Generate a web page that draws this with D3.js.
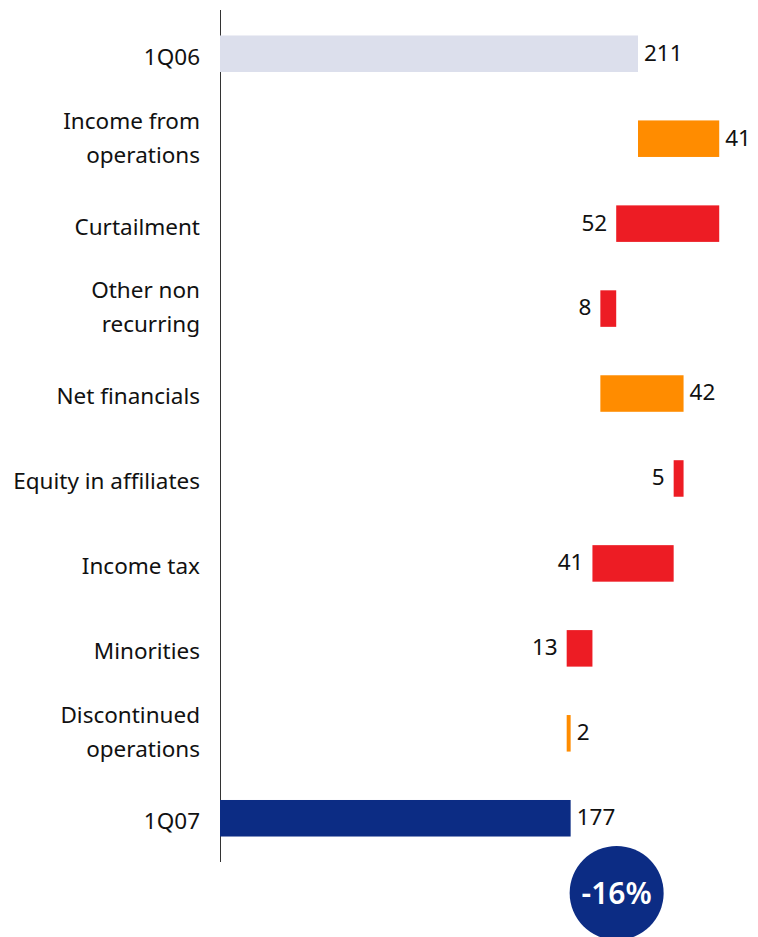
<!DOCTYPE html>
<html>
<head>
<meta charset="utf-8">
<script src="https://cdn.jsdelivr.net/npm/d3@7"></script>
<style>
  body { margin: 0; background: #fff; }
  text { font-family: "Noto Sans", "Open Sans", sans-serif; }
</style>
</head>
<body>
<svg id="chart" width="758" height="937"></svg>
<script>
// bridge from 1Q06 to 1Q07 net income
var categories = ["1Q06", "Income from|operations", "Curtailment", "Other non|recurring", "Net financials",
                  "Equity in affiliates", "Income tax", "Minorities", "Discontinued|operations", "1Q07"];
var values = [211, 41, -52, -8, 42, -5, -41, -13, 2, 177];
var kinds = ["start", "delta", "delta", "delta", "delta", "delta", "delta", "delta", "delta", "end"];
var changeLabel = "-16%";

var svg = d3.select("#chart");

var colors = {start: "#dcdfec", end: "#0c2c84", up: "#ff8c00", down: "#ed1c24"};

// running totals -> bar extents
var rows = [], running = 0;
categories.forEach(function(c, i){
  var v = values[i], x0, x1, kind;
  if (kinds[i] === "delta") {
    x0 = running; x1 = running + v; running = x1;
    kind = v >= 0 ? "up" : "down";
  } else {
    x0 = 0; x1 = v; running = v;
    kind = kinds[i];
  }
  rows.push({label: c, value: v, lo: Math.min(x0, x1), hi: Math.max(x0, x1), kind: kind});
});

var x = d3.scaleLinear().domain([0, 211]).range([220, 638]);
var y = d3.scaleBand().domain(d3.range(categories.length)).range([10, 862]).paddingInner(0.57).paddingOuter(0.3);

// axis line
svg.append("line")
  .attr("x1", 220.5).attr("x2", 220.5)
  .attr("y1", 10).attr("y2", 862)
  .style("stroke", "#333")
  .style("stroke-width", "1px");

svg.selectAll(".bar")
  .data(rows).enter()
  .append("rect")
  .attr("class", "bar")
  .attr("x", function(d){ return x(d.lo); })
  .attr("y", function(d, i){ return y(i); })
  .attr("width", function(d){ return x(d.hi) - x(d.lo); })
  .attr("height", y.bandwidth())
  .style("fill", function(d){ return colors[d.kind]; });

// category labels
var lab = svg.selectAll(".cat")
  .data(rows).enter()
  .append("text")
  .attr("class", "cat")
  .attr("text-anchor", "end")
  .style("font-size", "22.5px")
  .style("fill", "#111");

lab.each(function(d, i){
  var lines = d.label.split("|");
  var cy = y(i) + y.bandwidth()/2 + (lines.length > 1 ? -1 : 3);
  var t = d3.select(this);
  lines.forEach(function(l, k){
    t.append("tspan")
      .attr("x", 200)
      .attr("y", cy + (k - (lines.length-1)/2)*34)
      .attr("dy", "0.35em")
      .text(l);
  });
});

// value labels
svg.selectAll(".val")
  .data(rows).enter()
  .append("text")
  .attr("class", "val")
  .attr("x", function(d){ return d.kind === "down" ? x(d.lo) - 9 : x(d.hi) + 6; })
  .attr("y", function(d, i){ return y(i) + y.bandwidth()/2 - 1; })
  .attr("dy", "0.35em")
  .attr("text-anchor", function(d){ return d.kind === "down" ? "end" : "start"; })
  .style("font-size", "22.5px")
  .style("fill", "#111")
  .text(function(d){ return Math.abs(d.value); });

// change bubble
var last = rows[rows.length-1];
var bubble = svg.append("g")
  .attr("transform", "translate(" + (x(last.hi) + 46) + "," + 893 + ")");
bubble.append("circle").attr("r", 47).style("fill", colors.end);
bubble.append("text")
  .attr("text-anchor", "middle")
  .attr("dy", "0.35em")
  .style("font-size", "30px")
  .style("font-weight", "600")
  .style("fill", "#fff")
  .text(changeLabel);
</script>
</body>
</html>
